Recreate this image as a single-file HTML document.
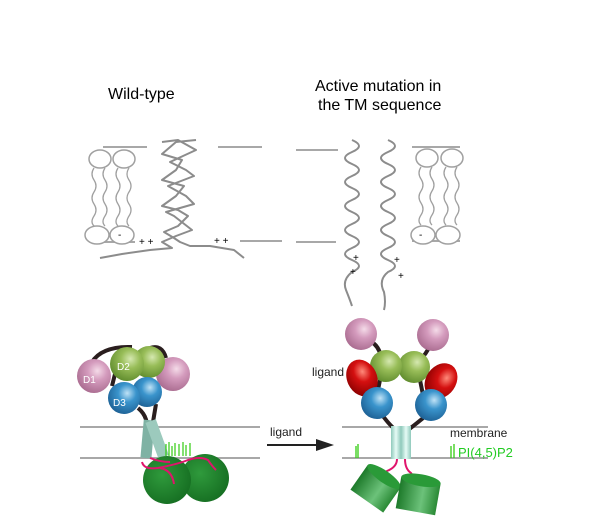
<!DOCTYPE html>
<html><head><meta charset="utf-8"><style>
html,body{margin:0;padding:0;background:#fff}
svg{display:block}
text{font-family:"Liberation Sans",sans-serif}
</style></head><body>
<svg width="615" height="523" viewBox="0 0 615 523" xmlns="http://www.w3.org/2000/svg">
<defs>
<radialGradient id="pk" cx="0.6" cy="0.35" r="0.7"><stop offset="0" stop-color="#f4dbe8"/><stop offset="0.4" stop-color="#d49bbd"/><stop offset="1" stop-color="#a86a8e"/></radialGradient>
<radialGradient id="gr" cx="0.6" cy="0.35" r="0.7"><stop offset="0" stop-color="#d5e8b0"/><stop offset="0.4" stop-color="#98bd58"/><stop offset="1" stop-color="#5e8a2c"/></radialGradient>
<radialGradient id="bl" cx="0.6" cy="0.35" r="0.7"><stop offset="0" stop-color="#bfe2f6"/><stop offset="0.4" stop-color="#3a94cc"/><stop offset="1" stop-color="#1c5f93"/></radialGradient>
<radialGradient id="rd" cx="0.6" cy="0.35" r="0.7"><stop offset="0" stop-color="#ff8a7a"/><stop offset="0.4" stop-color="#d41010"/><stop offset="1" stop-color="#8a0000"/></radialGradient>
<radialGradient id="dg" cx="0.4" cy="0.4" r="0.7"><stop offset="0" stop-color="#2f9a3c"/><stop offset="1" stop-color="#146b20"/></radialGradient>
<linearGradient id="tl" x1="0" x2="1"><stop offset="0" stop-color="#8fc9bb"/><stop offset="0.5" stop-color="#e6fbf6"/><stop offset="1" stop-color="#8fc9bb"/></linearGradient>
<linearGradient id="cg" x1="0" x2="1"><stop offset="0" stop-color="#1d7a2a"/><stop offset="0.6" stop-color="#6cc27a"/><stop offset="1" stop-color="#2a8a35"/></linearGradient>
</defs>
<text x="108" y="99" font-size="16">Wild-type</text>
<text x="315" y="91" font-size="16">Active mutation in</text>
<text x="318" y="110" font-size="16">the TM sequence</text>

<g stroke="#a8a8a8" stroke-width="2" fill="none">
<line x1="103" y1="147" x2="147" y2="147"/><line x1="218" y1="147" x2="262" y2="147"/>
<line x1="296" y1="150" x2="338" y2="150"/><line x1="412" y1="147" x2="460" y2="147"/>
<line x1="90" y1="242" x2="135" y2="242"/><line x1="240" y1="241" x2="282" y2="241"/>
<line x1="296" y1="242" x2="336" y2="242"/><line x1="412" y1="241" x2="460" y2="241"/>
</g>
<g stroke="#a0a0a0" stroke-width="1.5" fill="#fff">
<ellipse cx="100" cy="159" rx="11" ry="9"/><ellipse cx="124" cy="159" rx="11" ry="9"/>
<ellipse cx="97" cy="235" rx="12" ry="9"/><ellipse cx="122" cy="235" rx="12" ry="9"/>
<ellipse cx="427" cy="158" rx="11" ry="9"/><ellipse cx="452" cy="158" rx="11" ry="9"/>
<ellipse cx="423" cy="235" rx="12" ry="9"/><ellipse cx="448" cy="235" rx="12" ry="9"/>
</g>
<g stroke="#a0a0a0" stroke-width="1.3" fill="none">
<path d="M94 168 q-4 6 0 12 q4 6 0 12 q-4 6 0 12 q4 6 0 12 q-4 6 0 10"/>
<path d="M105 168 q-4 6 0 12 q4 6 0 12 q-4 6 0 12 q4 6 0 12 q-4 6 0 10"/>
<path d="M118 168 q-4 6 0 12 q4 6 0 12 q-4 6 0 12 q4 6 0 12 q-4 6 0 10"/>
<path d="M129 168 q-4 6 0 12 q4 6 0 12 q-4 6 0 12 q4 6 0 12 q-4 6 0 10"/>
<path d="M421 167 q-4 6 0 12 q4 6 0 12 q-4 6 0 12 q4 6 0 12 q-4 6 0 10"/>
<path d="M432 167 q-4 6 0 12 q4 6 0 12 q-4 6 0 12 q4 6 0 12 q-4 6 0 10"/>
<path d="M446 167 q-4 6 0 12 q4 6 0 12 q-4 6 0 12 q4 6 0 12 q-4 6 0 10"/>
<path d="M457 167 q-4 6 0 12 q4 6 0 12 q-4 6 0 12 q4 6 0 12 q-4 6 0 10"/>
</g>
<g stroke="#8c8c8c" stroke-width="2" fill="none" stroke-linejoin="round">
<polyline points="162,142 178,140 196,150 170,162 186,170 194,176 168,186 186,196 194,204 166,212 174,216 192,230 176,236 162,242 172,248 150,250 122,254 100,258"/>
<polyline points="196,140 176,142 162,154 182,160 176,170 162,180 184,186 176,196 162,206 178,210 188,216 178,226 164,232 174,238 180,242 190,246 210,246 234,250 244,258"/>
<path d="M352 140 q14 6 0 12 q-14 6 0 12 q14 6 0 12 q-14 6 0 12 q14 6 0 12 q-14 6 0 12 q14 6 0 12 q-14 6 0 12 q14 6 0 12 q-14 6 0 12 q14 6 0 12 q-10 8 -6 18 q4 10 6 16"/>
<path d="M388 140 q14 6 0 12 q-14 6 0 12 q14 6 0 12 q-14 6 0 12 q14 6 0 12 q-14 6 0 12 q14 6 0 12 q-14 6 0 12 q14 6 0 12 q-14 6 0 12 q14 6 0 12 q-10 8 -4 20 q2 10 0 18"/>
</g>
<g font-size="10" fill="#000">
<text x="139" y="245">+ +</text><text x="214" y="244">+ +</text>
<text x="118" y="238">-</text><text x="419" y="238">-</text>
<text x="353" y="261">+</text><text x="350" y="275">+</text>
<text x="394" y="263">+</text><text x="398" y="279">+</text>
</g>

<g stroke="#a8a8a8" stroke-width="2">
<line x1="80" y1="427" x2="260" y2="427"/><line x1="80" y1="458" x2="260" y2="458"/>
<line x1="342" y1="427" x2="488" y2="427"/><line x1="342" y1="458" x2="488" y2="458"/>
</g>
<line x1="267" y1="445" x2="318" y2="445" stroke="#222" stroke-width="2"/>
<polygon points="316,439 334,445 316,451" fill="#222"/>
<text x="270" y="436" font-size="12" fill="#222">ligand</text>

<g stroke="#2a1e1e" stroke-width="4" fill="none">
<path d="M92 362 q10 -16 40 -15"/><path d="M150 348 q12 -4 16 10"/>
<path d="M118 362 l-6 24"/><path d="M138 408 q12 10 8 26"/><path d="M156 404 l-4 24"/>
</g>
<circle cx="173" cy="374" r="17" fill="url(#pk)"/>
<circle cx="94" cy="376" r="17" fill="url(#pk)"/>
<circle cx="149" cy="362" r="16" fill="url(#gr)"/>
<circle cx="127" cy="364" r="17" fill="url(#gr)"/>
<circle cx="147" cy="392" r="15" fill="url(#bl)"/>
<circle cx="124" cy="398" r="16" fill="url(#bl)"/>
<text x="83" y="383" font-size="10" fill="#fff">D1</text>
<text x="117" y="370" font-size="10" fill="#fff">D2</text>
<text x="113" y="406" font-size="10" fill="#fff">D3</text>
<rect x="142" y="420" width="11" height="38" fill="#7fb2a4" transform="rotate(5 147 440)"/>
<rect x="152" y="420" width="11" height="38" fill="#9ccabd" transform="rotate(-20 157 440)"/>
<circle cx="205" cy="478" r="24" fill="url(#dg)"/>
<circle cx="167" cy="480" r="24" fill="url(#dg)"/>
<g stroke="#e0146c" stroke-width="2" fill="none">
<path d="M142 462 q2 8 16 6 q20 -4 30 -8 q12 -4 20 0 q4 6 8 10"/><path d="M160 468 q12 2 14 16"/><path d="M150 458 q10 4 20 4"/>
</g>
<g stroke="#33cc11" stroke-width="1.2" fill="none">
<path d="M166 456 v-12 M169 456 v-14 M172 456 v-10 M175 456 v-13 M179 456 v-12 M183 456 v-14 M186 456 v-11 M190 456 v-13"/>
</g>

<g stroke="#2a1e1e" stroke-width="4" fill="none">
<path d="M362 338 q20 4 20 28"/><path d="M433 338 q-6 18 -18 26"/>
<path d="M380 380 l-4 20"/><path d="M420 380 l4 20"/>
<path d="M380 412 q10 14 16 18"/><path d="M428 414 q-12 10 -20 16"/>
</g>
<circle cx="361" cy="334" r="16" fill="url(#pk)"/>
<circle cx="433" cy="335" r="16" fill="url(#pk)"/>
<circle cx="414" cy="367" r="16" fill="url(#gr)"/>
<circle cx="386" cy="366" r="16" fill="url(#gr)"/>
<ellipse cx="362" cy="378" rx="15" ry="19" fill="url(#rd)" transform="rotate(-25 362 378)"/>
<ellipse cx="441" cy="381" rx="15" ry="19" fill="url(#rd)" transform="rotate(35 441 381)"/>
<circle cx="377" cy="403" r="16" fill="url(#bl)"/>
<circle cx="431" cy="405" r="16" fill="url(#bl)"/>
<text x="312" y="376" font-size="12" fill="#222">ligand</text>
<rect x="391" y="426" width="10" height="33" fill="url(#tl)"/>
<rect x="401" y="426" width="10" height="33" fill="url(#tl)"/>
<g stroke="#e0146c" stroke-width="2" fill="none"><path d="M397 459 q0 8 -10 12 l-4 6"/><path d="M405 459 q0 10 6 14 l4 6"/></g>
<g transform="rotate(35 376 488)"><rect x="356" y="474" width="40" height="30" fill="url(#cg)"/><ellipse cx="376" cy="474" rx="20" ry="6" fill="#2a9a38"/></g>
<g transform="rotate(10 418 497)"><rect x="398" y="480" width="40" height="32" fill="url(#cg)"/><ellipse cx="418" cy="480" rx="20" ry="6" fill="#2a9a38"/></g>
<text x="450" y="437" font-size="12" fill="#222">membrane</text>
<text x="458" y="457" font-size="13" fill="#22cc22">PI(4,5)P2</text>
<g stroke="#33cc11" stroke-width="1.3" fill="none"><path d="M356 446 v12 M358 444 v14"/><path d="M451 446 v12 M454 444 v14"/></g>
</svg>
</body></html>
